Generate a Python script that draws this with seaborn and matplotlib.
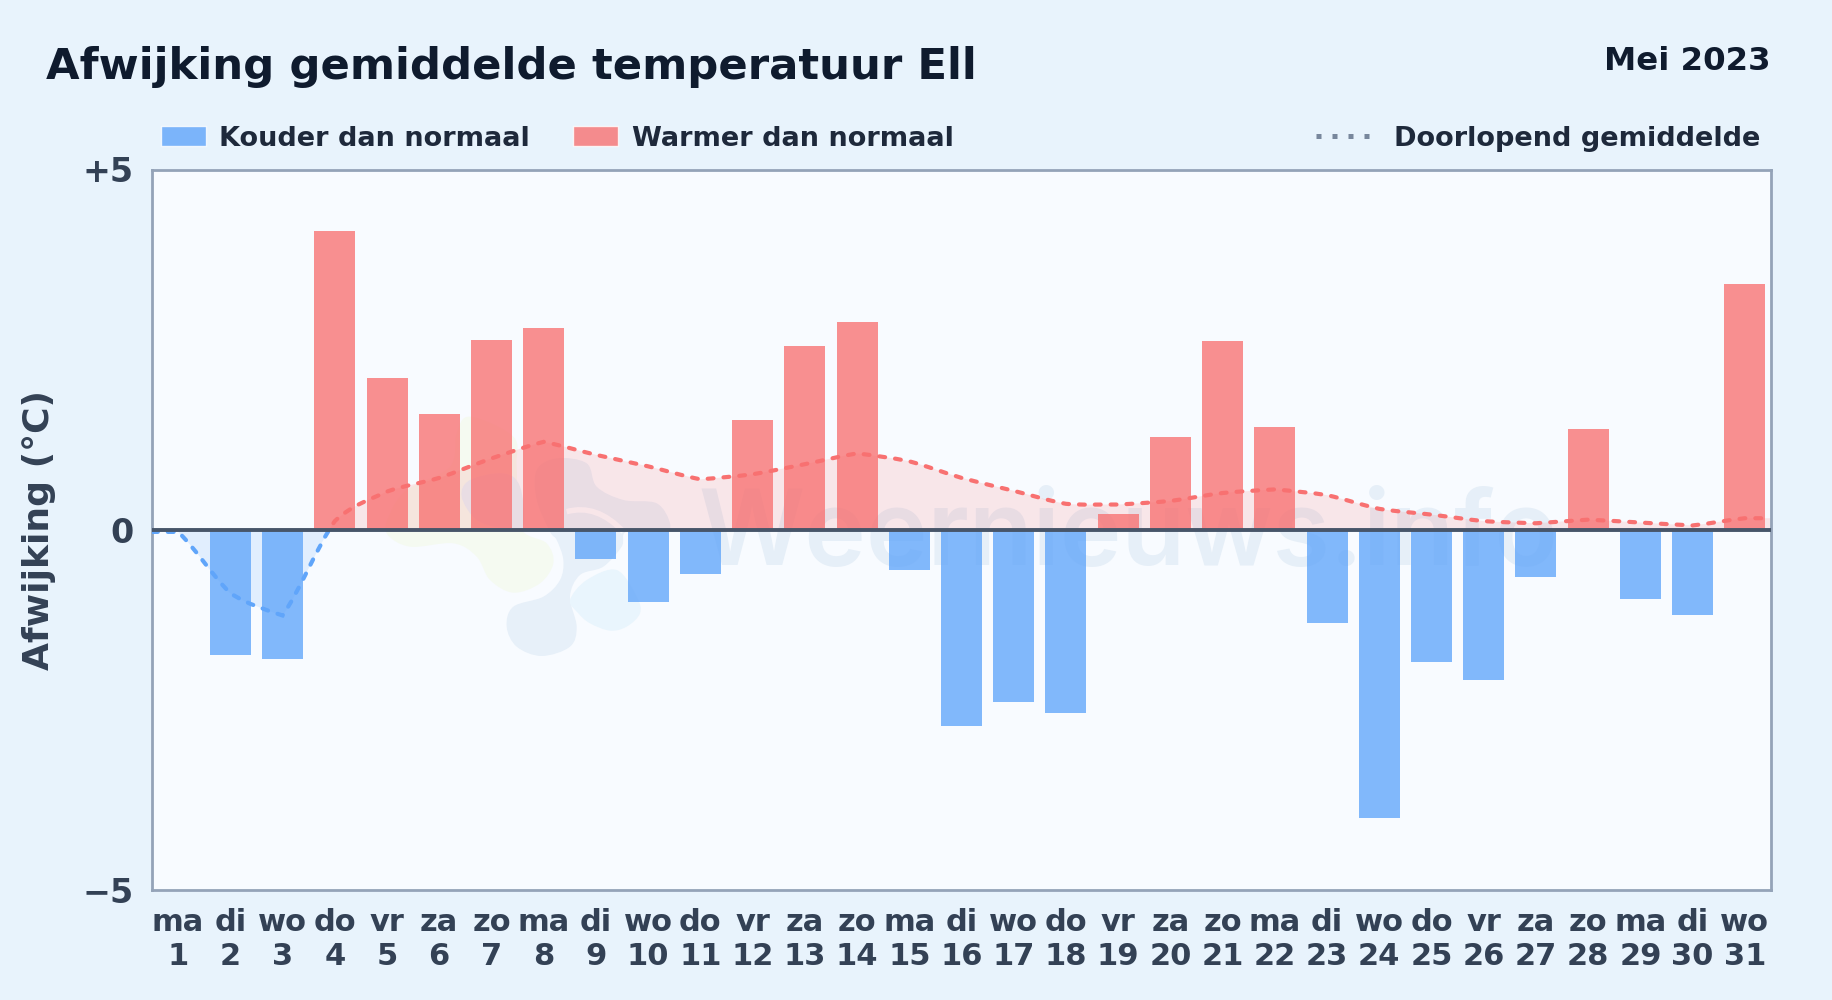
import numpy as np
import pandas as pd
import matplotlib
matplotlib.use("Agg")
import matplotlib.pyplot as plt
import seaborn as sns
from matplotlib.lines import Line2D
from matplotlib.patches import Patch, PathPatch, Rectangle
from matplotlib.path import Path
from matplotlib.transforms import IdentityTransform

weekdays = ["ma", "di", "wo", "do", "vr", "za", "zo"] * 4 + ["ma", "di", "wo"]
days = list(range(1, 32))
deviation = [0.0, -1.74, -1.79, 4.14, 2.10, 1.60, 2.63, 2.80, -0.40, -1.00, -0.62,
             1.52, 2.55, 2.89, -0.56, -2.72, -2.39, -2.55, 0.22, 1.29, 2.62,
             1.42, -1.30, -4.00, -1.84, -2.08, -0.66, 1.40, -0.96, -1.18, 3.41]
running_mean = [-0.03, -0.88, -1.19, 0.12, 0.53, 0.72, 0.99, 1.22, 1.04, 0.88, 0.70,
                0.77, 0.91, 1.06, 0.95, 0.72, 0.54, 0.36, 0.35, 0.40, 0.51,
                0.56, 0.48, 0.29, 0.21, 0.12, 0.09, 0.14, 0.10, 0.06, 0.16]

BLUE = "#60a5fa"
RED = "#f87171"
BG = "#e8f3fc"
PLOT_BG = "#f8fbff"
W, H = 1832, 1000

sns.set_theme(style="white", rc={"font.family": "DejaVu Sans", "font.weight": "bold"})

df = pd.DataFrame({"label": [f"{w}\n{d}" for w, d in zip(weekdays, days)], "value": deviation})
df["kind"] = np.where(df["value"] < 0, "koud", "warm")

fig = plt.figure(figsize=(W / 100, H / 100), dpi=100, facecolor=BG)
ax = fig.add_axes([152 / W, 1 - 890 / H, (1771 - 152) / W, (890 - 169.5) / H], facecolor=PLOT_BG)


def blob(points, color):
    # closed smooth outline, pixel coordinates of the picture
    pts = np.array(points, dtype=float)
    pts[:, 1] = H - pts[:, 1]
    n = len(pts)
    verts = [pts[0]]
    codes = [Path.MOVETO]
    for i in range(n):
        p0, p1, p2, p3 = pts[i - 1], pts[i], pts[(i + 1) % n], pts[(i + 2) % n]
        verts += [p1 + (p2 - p0) / 6, p2 - (p3 - p1) / 6, p2]
        codes += [Path.CURVE4] * 3
    ax.add_patch(PathPatch(Path(verts, codes), facecolor=color, edgecolor="none",
                           transform=IdentityTransform(), zorder=0.5))


def zoomed(points):
    return [(370 + x / 3, 400 + y / 3) for x, y in points]


# faint logo and site name behind the chart
blob(zoomed([(50, 400), (120, 440), (250, 430), (320, 470), (360, 540), (430, 578), (510, 550),
             (550, 490), (530, 430), (450, 380), (440, 200), (430, 110), (300, 50), (260, 100),
             (240, 200), (110, 270), (60, 340)]), "#f5faf1")
blob(zoomed([(410, 680), (430, 620), (520, 590), (570, 540), (580, 480), (560, 420), (540, 395),
             (500, 300), (500, 210), (560, 175), (650, 190), (680, 260), (760, 300), (860, 310),
             (900, 370), (880, 395), (770, 395), (755, 440), (700, 500), (630, 525), (600, 590),
             (620, 680), (600, 740), (515, 768), (440, 740)]), "#e7f0f9")
blob(zoomed([(275, 290), (300, 240), (400, 220), (450, 260), (460, 380), (400, 385), (320, 360)]), "#e7f0f9")
blob(zoomed([(600, 600), (650, 540), (740, 510), (800, 590), (810, 640), (770, 680), (720, 692),
             (660, 670), (625, 640)]), "#e9f5fd")
arc = [(x, H - y) for x, y in zoomed([(590, 335), (680, 310), (760, 395)])]
ax.add_patch(PathPatch(Path(arc, [Path.MOVETO, Path.CURVE3, Path.CURVE3]), facecolor="none", edgecolor=PLOT_BG,
                       lw=4, transform=IdentityTransform(), zorder=0.55))
ax.text(698, H - 565, "Weernieuws.info", transform=IdentityTransform(), family="Inter", weight="semibold",
        fontsize=75, color="#e6eff8", va="baseline", ha="left", zorder=0.6)

sns.barplot(data=df, x="label", y="value", hue="kind", palette={"koud": BLUE, "warm": RED},
            dodge=False, width=0.785, alpha=0.78, saturation=1, legend=False, ax=ax, zorder=2,
            linewidth=0, edgecolor="none")

ax.set_xlim(-0.5, 30.5)
ax.set_ylim(-5, 5)

# curve through the daily running mean, with a kink at the turning points
x = np.arange(len(running_mean), dtype=float)
y = np.array(running_mean)
sec = np.diff(y)
verts = [(x[0] - 0.5, y[0]), (x[0], y[0])]
codes = [Path.MOVETO, Path.LINETO]
for i in range(len(x) - 1):
    s = sec[i]
    prev_s = sec[i - 1] if i > 0 else 0.0
    next_s = sec[i + 1] if i < len(sec) - 1 else 0.0
    m0 = 0.3 * prev_s + 0.7 * s if prev_s * s > 0 else 0.8 * s
    m1 = 0.7 * s + 0.3 * next_s if s * next_s > 0 else 0.8 * s
    verts += [(x[i] + 1 / 3, y[i] + m0 / 3), (x[i + 1] - 1 / 3, y[i + 1] - m1 / 3), (x[i + 1], y[i + 1])]
    codes += [Path.CURVE4] * 3
verts.append((x[-1] + 0.5, y[-1]))
codes.append(Path.LINETO)
area = Path(verts + [(x[-1] + 0.5, 0), (x[0] - 0.5, 0), verts[0]],
            codes + [Path.LINETO, Path.LINETO, Path.CLOSEPOLY])
line = Path(verts, codes)

for color, bottom, height in [(RED, 0, 5), (BLUE, -5, 5)]:
    clip = Rectangle((-0.5, bottom), 31, height, transform=ax.transData)
    fill = PathPatch(area, facecolor=color, edgecolor="none", alpha=0.15, zorder=1.5)
    ax.add_patch(fill)
    fill.set_clip_path(clip)
    curve = PathPatch(line, facecolor="none", edgecolor=color, lw=3, capstyle="round",
                      linestyle=(0, (1.4, 2.4)), zorder=3)
    ax.add_patch(curve)
    curve.set_clip_path(clip)

ax.axhline(0, color="#475569", lw=2.8, zorder=4)

for s in ax.spines.values():
    s.set_color("#94a3b8")
    s.set_linewidth(2)

ax.set_yticks([-5, 0, 5], ["\u22125", "0", "+5"])
ax.tick_params(axis="x", length=0, labelsize=22, labelcolor="#334155", pad=13.2)
ax.tick_params(axis="y", length=0, labelsize=24, labelcolor="#334155", pad=13)
for t in ax.get_xticklabels() + ax.get_yticklabels():
    t.set_fontweight("bold")
    t.set_linespacing(1.2)
ax.set_xlabel("")
ax.set_ylabel("")
fig.text(39.5 / W, 1 - 530 / H, "Afwijking (\u00b0C)", rotation=90, fontsize=26, weight="bold",
         color="#334155", ha="center", va="center")

fig.text(46 / W, 1 - 67 / H, "Afwijking gemiddelde temperatuur Ell", fontsize=31.2, weight="bold",
         color="#0f1b2e", ha="left", va="center")
fig.text(1771 / W, 1 - 61 / H, "Mei 2023", fontsize=23.3, weight="bold", color="#0f1b2e",
         ha="right", va="center")

left = fig.legend(handles=[Patch(facecolor=BLUE, alpha=0.8, label="Kouder dan normaal"),
                           Patch(facecolor=RED, alpha=0.8, label="Warmer dan normaal")],
                  loc="center left", bbox_to_anchor=(161 / W, 1 - 138.5 / H), ncols=2, frameon=False,
                  prop={"size": 19.5, "weight": "bold"}, labelcolor="#1e293b", handlelength=1.65,
                  handleheight=0.73, handletextpad=0.5, columnspacing=1.6, borderpad=0, borderaxespad=0)
right = fig.legend(handles=[Line2D([], [], color="#64748b", lw=3.6, linestyle=(0, (1.0, 2.2)), alpha=0.85,
                                   label="Doorlopend gemiddelde")],
                   loc="center right", bbox_to_anchor=(1760.5 / W, 1 - 138.5 / H), frameon=False,
                   prop={"size": 19.5, "weight": "bold"}, labelcolor="#1e293b", handlelength=2.0,
                   handletextpad=0.87, borderpad=0, borderaxespad=0)

fig.savefig("out.png", dpi=100, facecolor=BG)
